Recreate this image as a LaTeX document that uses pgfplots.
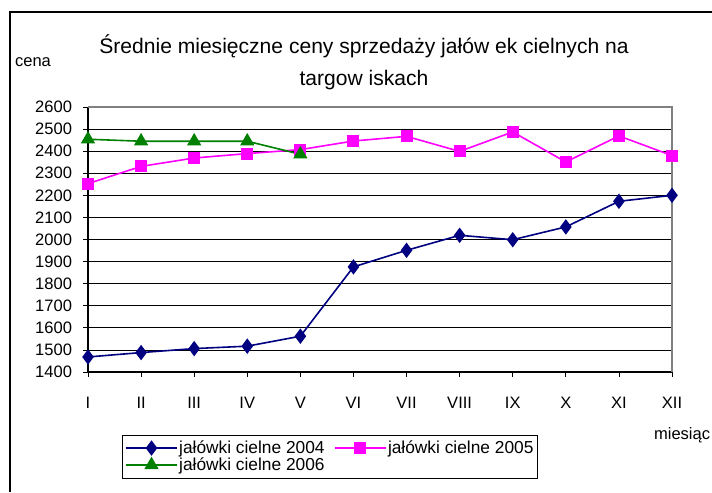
\documentclass[border=0pt]{standalone}
\usepackage{pgfplots}
\pgfplotsset{compat=1.18}
\usepackage{fontspec}
\setmainfont{Liberation Sans}
\definecolor{c2004}{RGB}{0,0,128}
\definecolor{c2005}{RGB}{255,0,255}
\definecolor{c2006}{RGB}{0,128,0}
\begin{document}
\begin{tikzpicture}
\useasboundingbox (0,0) rectangle (534pt,369pt);
% ramka wykresu
\draw[black, line width=0.8pt] (7.5pt,0pt) -- (7.5pt,360pt) -- (540pt,360pt);
\node[font=\fontsize{15.8}{18}\selectfont] at (273pt,334.5pt) {Średnie miesięczne ceny sprzedaży jałów ek cielnych na};
\node[font=\fontsize{15.8}{18}\selectfont] at (273pt,309pt) {targow iskach};
\node[font=\fontsize{12.4}{14}\selectfont] at (24.75pt,322.5pt) {cena};
\node[font=\fontsize{12.4}{14}\selectfont, anchor=west] at (487pt,42.75pt) {miesiąc};
\begin{axis}[
    at={(66pt,90pt)}, anchor=south west,
    scale only axis,
    width=438pt, height=198.75pt,
    xmin=1, xmax=12,
    ymin=1400, ymax=2600,
    xtick={1,...,12},
    xticklabels={I,II,III,IV,V,VI,VII,VIII,IX,X,XI,XII},
    ytick={1400,1500,...,2600},
    axis lines*=left,
    axis line style={black, line width=0.8pt},
    ymajorgrids,
    grid style={black, line width=0.6pt},
    tick align=outside,
    tick style={black, line width=0.6pt},
    major tick length=3.5pt,
    ticklabel style={font=\fontsize{12.4}{14}\selectfont},
    xticklabel style={yshift=-12pt},
    yticklabel style={xshift=-5pt},
    /pgf/number format/1000 sep={},
    /pgf/number format/assume math mode=true,
    legend columns=2,
    legend style={at={(0.0582,-0.2365)}, anchor=north west, draw=black,
        font=\fontsize{13}{15}\selectfont, inner xsep=2pt, inner ysep=3.5pt,
        nodes={inner sep=0.8pt}, row sep=0pt,
        /tikz/every even column/.append style={column sep=6pt}},
    legend cell align=left,
    legend image code/.code={
        \draw[mark repeat=2, mark phase=2] plot coordinates {(0cm,0cm) (0.68cm,0cm) (1.36cm,0cm)};
    },
    clip=false,
]
\addplot[c2004, line width=1.2pt, mark=diamond*, mark size=4.8pt, mark options={solid}] coordinates {
    (1,1468) (2,1488) (3,1506) (4,1517) (5,1562) (6,1876)
    (7,1951) (8,2019) (9,1999) (10,2057) (11,2173) (12,2200)
};
\addlegendentry{jałówki cielne 2004}
\addplot[c2005, line width=1.2pt, mark=square*, mark size=3.9pt] coordinates {
    (1,2253) (2,2331) (3,2369) (4,2389) (5,2407) (6,2446)
    (7,2467) (8,2399) (9,2487) (10,2351) (11,2469) (12,2380)
};
\addlegendentry{jałówki cielne 2005}
\addplot[c2006, line width=1.2pt, mark=triangle*, mark size=5pt] coordinates {
    (1,2454) (2,2445) (3,2445) (4,2445) (5,2386)
};
\addlegendentry{jałówki cielne 2006}
\draw[gray, line width=0.8pt] (rel axis cs:0,1) -- (rel axis cs:1,1) -- (rel axis cs:1,0);
\end{axis}
\end{tikzpicture}
\end{document}
